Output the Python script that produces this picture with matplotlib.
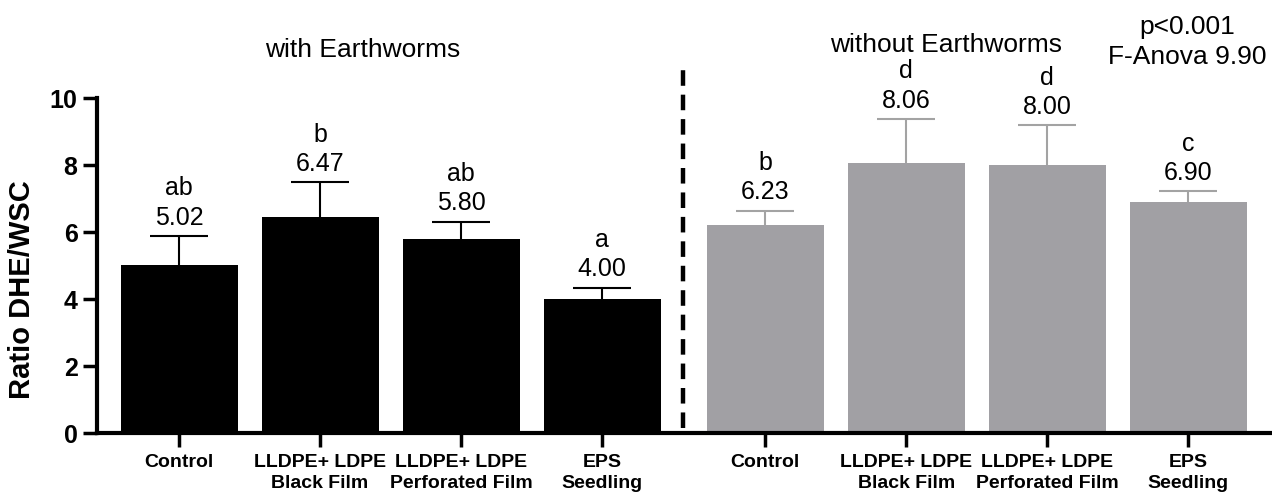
import matplotlib
matplotlib.use("Agg")
import matplotlib.pyplot as plt
import numpy as np

plt.rcParams['font.family'] = ['Liberation Sans', 'DejaVu Sans']

categories = ["Control", "LLDPE+ LDPE\nBlack Film", "LLDPE+ LDPE\nPerforated Film", "EPS\nSeedling"]
with_vals = [5.02, 6.47, 5.80, 4.00]
with_err = [0.88, 1.03, 0.52, 0.35]
with_letters = ["ab", "b", "ab", "a"]
without_vals = [6.23, 8.06, 8.00, 6.90]
without_err = [0.42, 1.33, 1.20, 0.33]
without_letters = ["b", "d", "d", "c"]
yticks = [0, 2, 4, 6, 8, 10]

fig = plt.figure(figsize=(12.72, 4.93), dpi=100)
ax = fig.add_axes([97/1272, 1-433.3/493, 1-97/1272, (433.3-98.3)/493])

x1 = np.arange(4)
x2 = np.arange(4) + 4.156
w = 0.83
cap = 0.205
black = "#000000"
gray = "#A1A0A4"
ebgray = "#A3A3A3"

ax.bar(x1, with_vals, width=w, color=black, zorder=2)
ax.bar(x2, without_vals, width=w, color=gray, zorder=2)

for xs, vals, errs, lets, ec in [(x1, with_vals, with_err, with_letters, black),
                                 (x2, without_vals, without_err, without_letters, ebgray)]:
    xs = np.asarray(xs)
    tops = np.asarray(vals) + np.asarray(errs)
    ax.vlines(xs, vals, tops, color=ec, lw=1.5, zorder=3)
    ax.hlines(tops, xs - cap, xs + cap, color=ec, lw=1.5, zorder=3)
    for xi, v, top, l in zip(xs, vals, tops, lets):
        ax.annotate(f"{v:.2f}", (xi, top), xytext=(0, 8), textcoords='offset points',
                    ha='center', va='baseline', fontsize=18, annotation_clip=False)
        ax.annotate(l, (xi, top), xytext=(0, 29), textcoords='offset points',
                    ha='center', va='baseline', fontsize=18, annotation_clip=False)

ax.set_xlim(-0.582, 7.75)
ax.set_ylim(0, 10)
ax.set_yticks(yticks)
ax.set_yticklabels([str(t) for t in yticks], fontsize=18, fontweight='bold')
ax.set_xticks(list(x1) + list(x2))
ax.set_xticklabels(categories * 2, fontsize=14, fontweight='bold', linespacing=1.3)
ax.tick_params(axis='both', direction='out', length=10, width=2.5, pad=4)
ax.tick_params(axis='x', pad=5)

for s in ['top', 'right']:
    ax.spines[s].set_visible(False)
ax.spines['left'].set_linewidth(3)
ax.spines['bottom'].set_linewidth(3)
ax.set_ylabel("Ratio DHE/WSC", fontsize=21, fontweight='bold')
ax.yaxis.set_label_coords(-0.052, 0.43)

# divider
xd = (683 - 179) / 141
ax.plot([xd, xd], [0.15, 11.0], ls=(0, (3.5, 2.0)), lw=3.2, color='black', clip_on=False, zorder=4)

fig.text(363/1272, 1-50/493, "with Earthworms", ha='center', va='center', fontsize=19)
fig.text(946/1272, 1-45/493, "without Earthworms", ha='center', va='center', fontsize=19)
fig.text(1187/1272, 1-27/493, "p<0.001", ha='center', va='center', fontsize=19)
fig.text(1187/1272, 1-57/493, "F-Anova 9.90", ha='center', va='center', fontsize=19)

fig.savefig("out.png", dpi=100)
